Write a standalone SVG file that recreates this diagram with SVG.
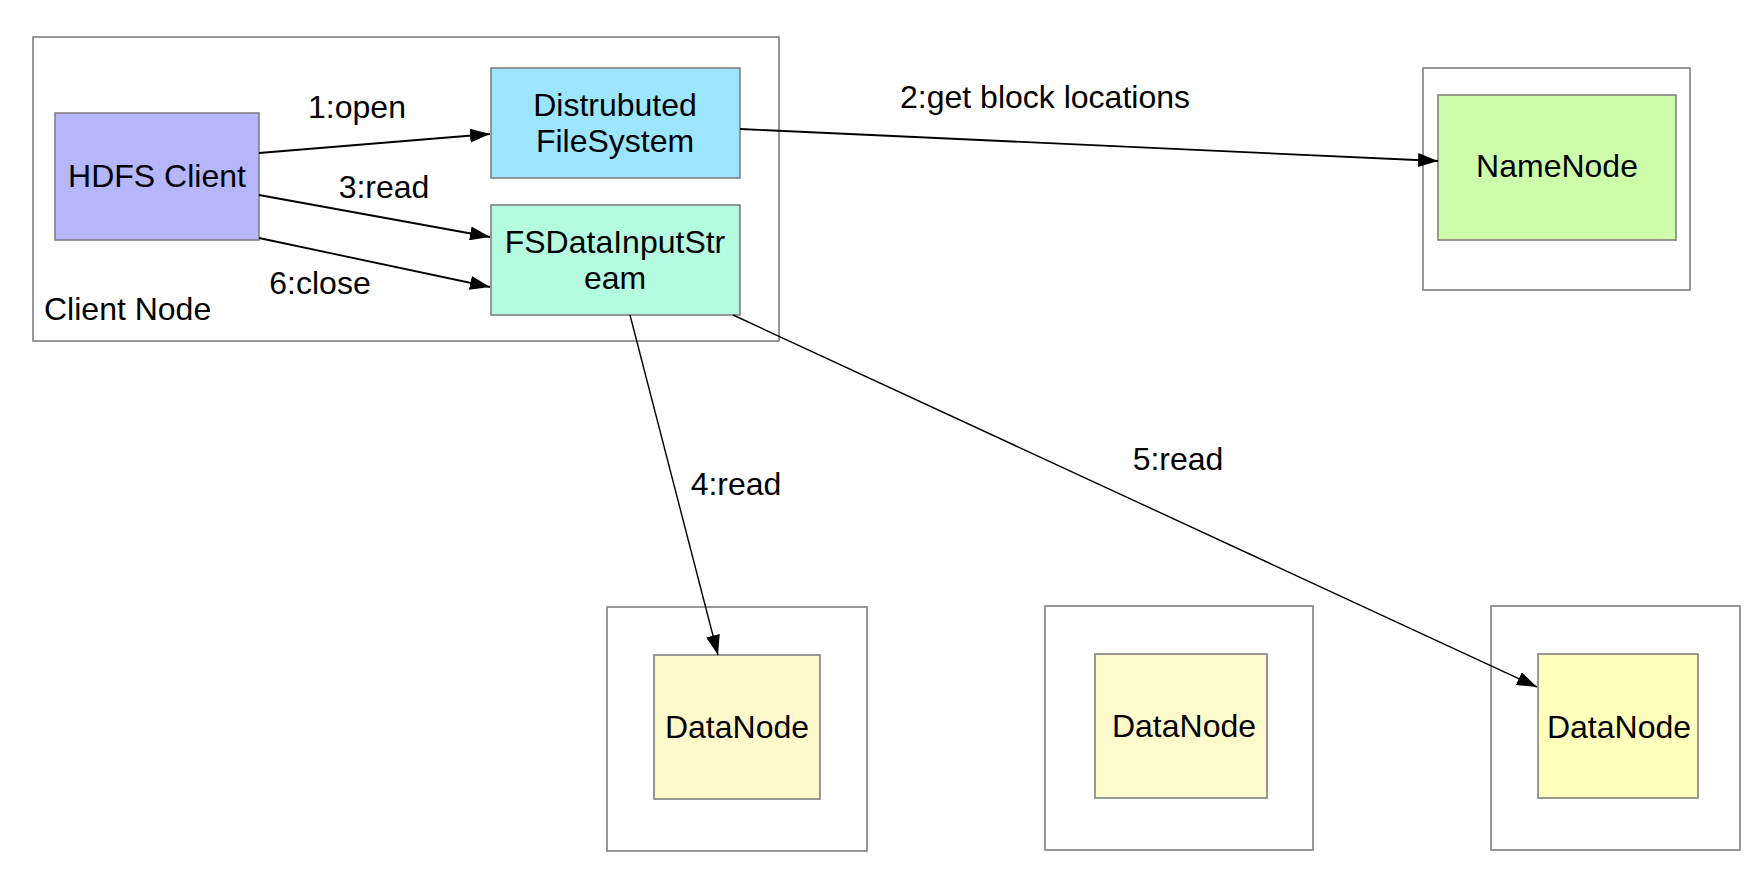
<svg xmlns="http://www.w3.org/2000/svg" width="1758" height="874" viewBox="0 0 1758 874">
<defs>
<style>
.box{stroke:#808080;stroke-width:1.6}
.outer{fill:#ffffff;stroke:#808080;stroke-width:1.6}
.t{font-family:"Liberation Sans",Arial,Helvetica,sans-serif;font-size:32px;fill:#000000}
.c{text-anchor:middle}
.edge{fill:none;stroke:#000000;stroke-width:1.8}
.thin{stroke-width:1.4}
</style>
<marker id="arrow" markerUnits="userSpaceOnUse" markerWidth="20" markerHeight="14" refX="20" refY="7" orient="auto">
<path d="M0,0 L20,7 L0,14 z" fill="#000000"/>
</marker>
</defs>
<rect width="1758" height="874" fill="#ffffff"/>

<g id="client-node">
<rect class="outer" x="33" y="37" width="746" height="304"/>
<text class="t" x="44" y="320">Client Node</text>
</g>

<g id="hdfs-client">
<rect class="box" x="55" y="113" width="204" height="127" fill="#b5b6fb"/>
<text class="t c" x="157" y="187">HDFS Client</text>
</g>

<g id="distributed-filesystem">
<rect class="box" x="491" y="68" width="249" height="110" fill="#9be5ff"/>
<text class="t c" x="615" y="116">Distrubuted</text>
<text class="t c" x="615" y="152">FileSystem</text>
</g>

<g id="fsdatainputstream">
<rect class="box" x="491" y="205" width="249" height="110" fill="#b5fbe0"/>
<text class="t c" x="615" y="253">FSDataInputStr</text>
<text class="t c" x="615" y="289">eam</text>
</g>

<g id="namenode">
<rect class="outer" x="1423" y="68" width="267" height="222"/>
<rect class="box" x="1438" y="95" width="238" height="145" fill="#cdfdaa"/>
<text class="t c" x="1557" y="177">NameNode</text>
</g>

<g id="datanode-1">
<rect class="outer" x="607" y="607" width="260" height="244"/>
<rect class="box" x="654" y="655" width="166" height="144" fill="#fff9cc"/>
<text class="t c" x="737" y="738">DataNode</text>
</g>

<g id="datanode-2">
<rect class="outer" x="1045" y="606" width="268" height="244"/>
<rect class="box" x="1095" y="654" width="172" height="144" fill="#fffacc"/>
<text class="t c" x="1184" y="737">DataNode</text>
</g>

<g id="datanode-3">
<rect class="outer" x="1491" y="606" width="249" height="244"/>
<rect class="box" x="1538" y="654" width="160" height="144" fill="#ffffbb"/>
<text class="t c" x="1619" y="738">DataNode</text>
</g>

<g id="connectors">
<line class="edge" x1="259" y1="153" x2="490" y2="134" marker-end="url(#arrow)"/>
<line class="edge" x1="259" y1="195" x2="490" y2="237" marker-end="url(#arrow)"/>
<line class="edge" x1="259" y1="238" x2="490" y2="287" marker-end="url(#arrow)"/>
<line class="edge" x1="740" y1="129" x2="1438" y2="161" marker-end="url(#arrow)"/>
<line class="edge thin" x1="630" y1="315" x2="718" y2="655" marker-end="url(#arrow)"/>
<line class="edge thin" x1="733" y1="315" x2="1537" y2="687" marker-end="url(#arrow)"/>
<text class="t c" x="357" y="118">1:open</text>
<text class="t c" x="384" y="198">3:read</text>
<text class="t c" x="320" y="294">6:close</text>
<text class="t c" x="1045" y="108">2:get block locations</text>
<text class="t c" x="736" y="495">4:read</text>
<text class="t c" x="1178" y="470">5:read</text>
</g>
</svg>
